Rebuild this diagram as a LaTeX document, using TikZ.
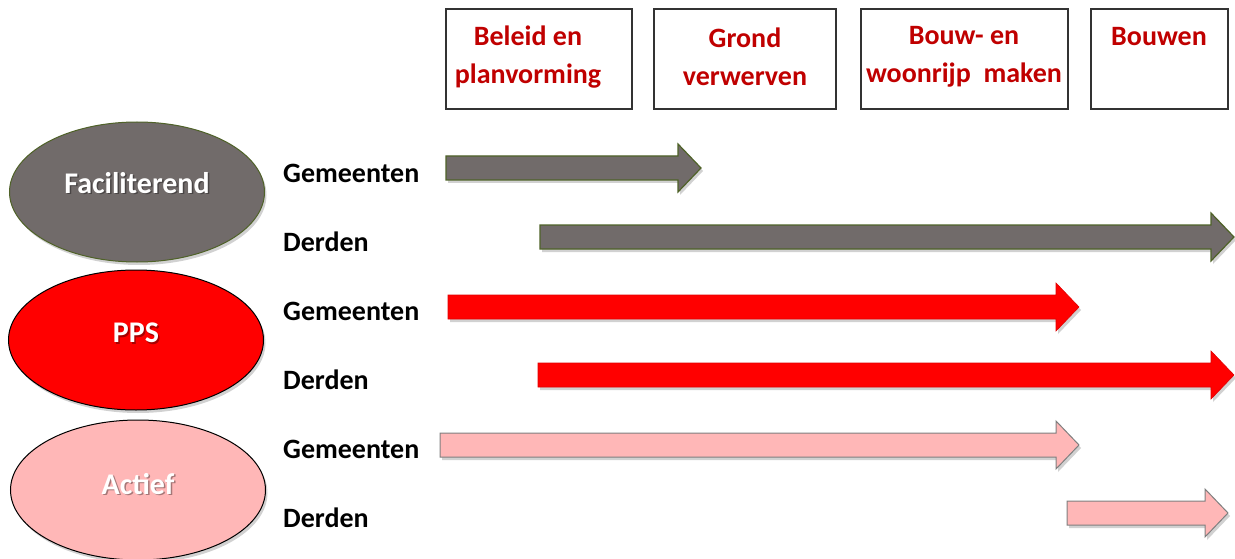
\documentclass[tikz,border=0pt]{standalone}
\usepackage{fontspec}
\setmainfont{Carlito}
\usetikzlibrary{shadows,shapes.geometric}
\definecolor{grayfill}{HTML}{716B6A}
\definecolor{grayline}{HTML}{4F6228}
\definecolor{redfill}{HTML}{FF0000}
\definecolor{redline}{HTML}{E00000}
\definecolor{pinkfill}{HTML}{FFB7B7}
\definecolor{pinkline}{HTML}{7F7F7F}
\definecolor{phasered}{HTML}{C00000}
\tikzset{
  phase/.style={draw=black!80, line width=1.2pt, fill=white, anchor=north west, inner sep=0pt},
  phasetext/.style={text=phasered, font=\fontsize{28}{38}\selectfont\bfseries, align=center},
  role/.style={ellipse, draw, line width=1pt, minimum width=255pt, minimum height=140pt, inner sep=0pt},
  roletext/.style={text=white, font=\fontsize{30}{34}\selectfont\bfseries},
  party/.style={anchor=west, font=\fontsize{28}{32}\selectfont\bfseries, inner sep=0pt},
  shade/.style={drop shadow={shadow xshift=2pt, shadow yshift=-3pt, opacity=0.18, fill=black}},
  grayarrow/.style={fill=grayfill, draw=grayline, line width=1.2pt, shade},
  redarrow/.style={fill=redfill, draw=redline, line width=0.6pt, shade},
  pinkarrow/.style={fill=pinkfill, draw=pinkline, line width=1pt, shade},
}
% block arrow: #1 style, #2 x start, #3 x head start, #4 x tip, #5 y centre
\newcommand{\blockarrow}[5]{%
  \path[#1] (#2,#5-12) -- (#3,#5-12) -- (#3,#5-24) -- (#4,#5) -- (#3,#5+24) -- (#3,#5+12) -- (#2,#5+12) -- cycle;}
\begin{document}
\begin{tikzpicture}[x=1pt,y=-1pt]
\useasboundingbox (0,0) rectangle (1235,559);
% phase boxes
\draw[phase] (446,9) rectangle (632,109);
\draw[phase] (654,9) rectangle (836,109);
\draw[phase] (861,9) rectangle (1068,109);
\draw[phase] (1091,9) rectangle (1228,109);
\node[phasetext] (p1) at (528,57) {Beleid en\\planvorming};
\node[phasetext] (p2) at (745,57) {Grond\\verwerven};
\node[phasetext] (p3) at (964,57) {Bouw- en\\woonrijp~ maken};
\node[phasetext] (p4) at (1159,37) {Bouwen};
% role ellipses
\node[role, fill=grayfill, draw=grayline, shade] (fac) at (137,192) {};
\node[role, fill=redfill, draw=black, shade] (pps) at (136,340) {};
\node[role, fill=pinkfill, draw=black, shade] (act) at (138,490) {};
\foreach \n/\t/\dy in {fac/Faciliterend/-9, pps/PPS/-7, act/Actief/-6}{
  \node[roletext, text=black, opacity=0.35] at ([xshift=1.5pt,yshift=-1.5pt]\n.center) [yshift=-\dy pt] {\t};
  \node[roletext] (\n-t) at (\n.center) [yshift=-\dy pt] {\t};
}
% parties
\node[party] (g1) at (283,173) {Gemeenten};
\node[party] (d1) at (283,242) {Derden};
\node[party] (g2) at (283,311) {Gemeenten};
\node[party] (d2) at (283,380) {Derden};
\node[party] (g3) at (283,449) {Gemeenten};
\node[party] (d3) at (283,518) {Derden};
% arrows
\blockarrow{grayarrow}{446}{678}{701}{168}
\blockarrow{grayarrow}{540}{1211}{1234}{237}
\blockarrow{redarrow}{448}{1056}{1079}{307}
\blockarrow{redarrow}{538}{1211}{1234}{375}
\blockarrow{pinkarrow}{440}{1056}{1079}{445}
\blockarrow{pinkarrow}{1067}{1205}{1228}{513}
\end{tikzpicture}
\end{document}
